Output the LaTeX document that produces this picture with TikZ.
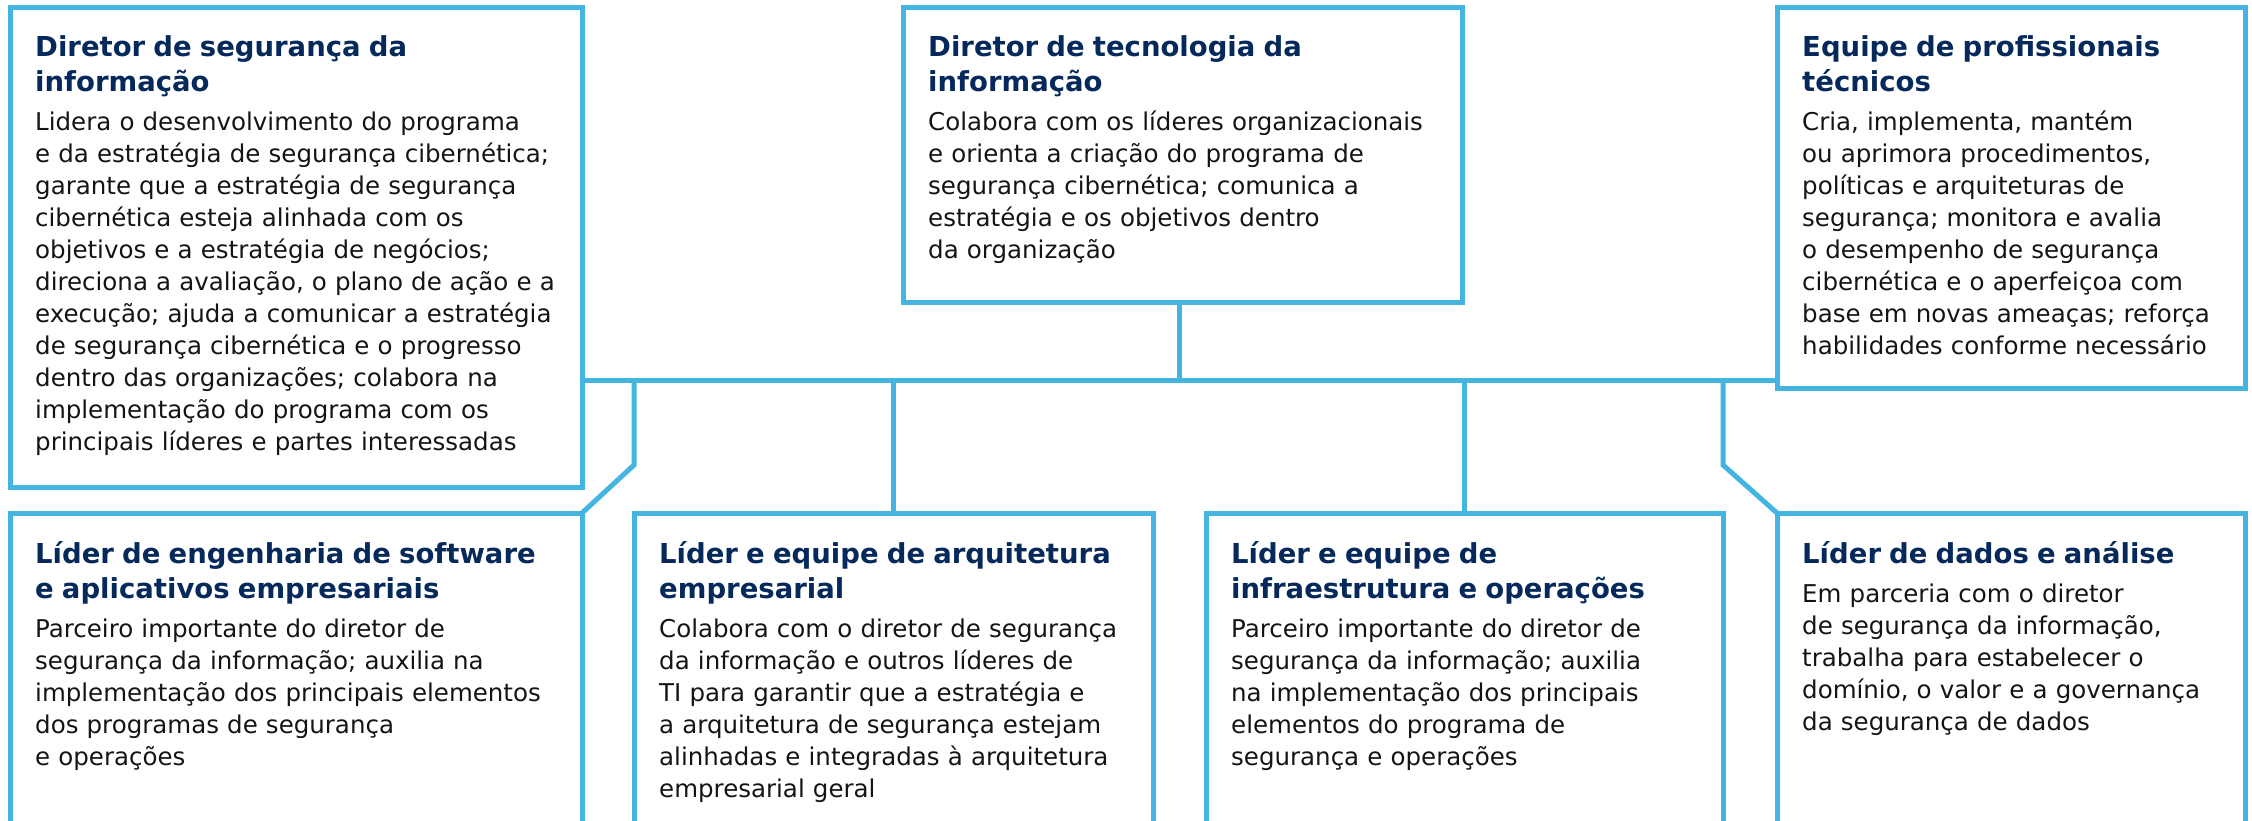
\documentclass[tikz,border=0pt]{standalone}
\usepackage{fontspec}
\setmainfont{DejaVu Sans}
\definecolor{cardblue}{HTML}{44B4E1}
\definecolor{titlenavy}{HTML}{06295C}
\definecolor{bodyink}{HTML}{141414}
\newcommand\cardtitle[1]{{\leavevmode\fontsize{27.5}{35}\selectfont\bfseries\color{titlenavy}#1\par}\vspace{7pt}}
\begin{document}
\begin{tikzpicture}[x=1pt, y=-1pt,
    card/.style={draw=cardblue, line width=5pt, rectangle, inner sep=0pt, outer sep=0pt, anchor=north west},
    cardtext/.style={anchor=base west, inner sep=0pt, text width=#1, align=left, text=bodyink, font=\fontsize{24.5}{32}\selectfont},
    link/.style={draw=cardblue, line width=5pt}]
        \useasboundingbox (0,0) rectangle (2252,821);
        \clip (0,0) rectangle (2252,821);
        \fill[white] (0,0) rectangle (2252,821);

        % top row
        \node[card, minimum width=572pt, minimum height=479pt] (ciso) at (10,8) {};
        \node[card, minimum width=559pt, minimum height=294pt] (cto) at (903,8) {};
        \node[card, minimum width=468pt, minimum height=380pt] (team) at (1777,8) {};

        % bottom row, open at the lower edge
        \node[card, minimum width=572pt, minimum height=340pt] (swlead) at (10,513) {};
        \node[card, minimum width=519pt, minimum height=340pt] (ealead) at (634,513) {};
        \node[card, minimum width=517pt, minimum height=340pt] (iolead) at (1206,513) {};
        \node[card, minimum width=468pt, minimum height=340pt] (dalead) at (1777,513) {};

        \coordinate (bus) at (0,380);
        \draw[link] (ciso.east |- bus) -- (team.west |- bus);
        \draw[link] ([xshift=-3pt]cto.south) -- ([xshift=-3pt]cto.south |- bus);
        \draw[link] (ealead.north |- bus) -- (ealead.north);
        \draw[link] (iolead.north |- bus) -- (iolead.north);
        \draw[link] (ealead.north west |- bus) -- ([yshift=48pt]ealead.north west) -- (swlead.north east);
        \draw[link] (iolead.north east |- bus) -- ([yshift=48pt]iolead.north east) -- (dalead.north west);

        % texts
        \node[cardtext=532pt] (ciso-txt) at ([xshift=25pt,yshift=-49pt]ciso.north west) {\cardtitle{Diretor de segurança da\\informação}%
            Lidera o desenvolvimento do programa\\
            e da estratégia de segurança cibernética;\\
            garante que a estratégia de segurança\\
            cibernética esteja alinhada com os\\
            objetivos e a estratégia de negócios;\\
            direciona a avaliação, o plano de ação e a\\
            execução; ajuda a comunicar a estratégia\\
            de segurança cibernética e o progresso\\
            dentro das organizações; colabora na\\
            implementação do programa com os\\
            principais líderes e partes interessadas};
        \node[cardtext=519pt] (cto-txt) at ([xshift=25pt,yshift=-49pt]cto.north west) {\cardtitle{Diretor de tecnologia da\\informação}%
            Colabora com os líderes organizacionais\\
            e orienta a criação do programa de\\
            segurança cibernética; comunica a\\
            estratégia e os objetivos dentro\\
            da organização};
        \node[cardtext=428pt] (team-txt) at ([xshift=25pt,yshift=-49pt]team.north west) {\cardtitle{Equipe de profissionais\\técnicos}%
            Cria, implementa, mantém\\
            ou aprimora procedimentos,\\
            políticas e arquiteturas de\\
            segurança; monitora e avalia\\
            o desempenho de segurança\\
            cibernética e o aperfeiçoa com\\
            base em novas ameaças; reforça\\
            habilidades conforme necessário};
        \node[cardtext=532pt] (swlead-txt) at ([xshift=25pt,yshift=-50pt]swlead.north west) {\cardtitle{Líder de engenharia de software\\e aplicativos empresariais}%
            Parceiro importante do diretor de\\
            segurança da informação; auxilia na\\
            implementação dos principais elementos\\
            dos programas de segurança\\
            e operações};
        \node[cardtext=479pt] (ealead-txt) at ([xshift=25pt,yshift=-50pt]ealead.north west) {\cardtitle{Líder e equipe de arquitetura\\empresarial}%
            Colabora com o diretor de segurança\\
            da informação e outros líderes de\\
            TI para garantir que a estratégia e\\
            a arquitetura de segurança estejam\\
            alinhadas e integradas à arquitetura\\
            empresarial geral};
        \node[cardtext=477pt] (iolead-txt) at ([xshift=25pt,yshift=-50pt]iolead.north west) {\cardtitle{Líder e equipe de\\infraestrutura e operações}%
            Parceiro importante do diretor de\\
            segurança da informação; auxilia\\
            na implementação dos principais\\
            elementos do programa de\\
            segurança e operações};
        \node[cardtext=428pt] (dalead-txt) at ([xshift=25pt,yshift=-50pt]dalead.north west) {\cardtitle{Líder de dados e análise}%
            Em parceria com o diretor\\
            de segurança da informação,\\
            trabalha para estabelecer o\\
            domínio, o valor e a governança\\
            da segurança de dados};
    \end{tikzpicture}
\end{document}
